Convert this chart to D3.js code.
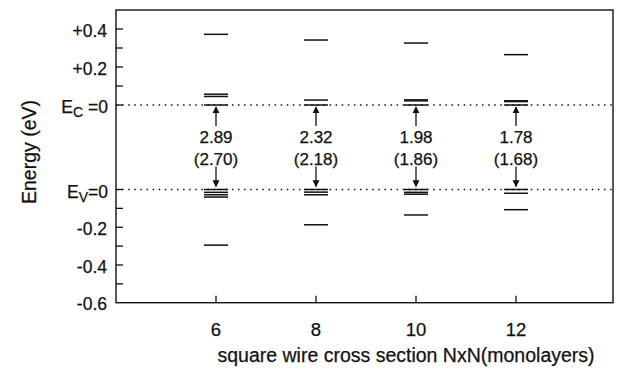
<!DOCTYPE html>
<html><head><meta charset="utf-8">
<script src="https://cdn.jsdelivr.net/npm/d3@7/dist/d3.min.js"></script>
<style>body{margin:0;background:#fff}svg{display:block}text{font-family:"Liberation Sans",Arial,Helvetica,sans-serif;fill:#111;stroke:#111;stroke-width:0.25}</style>
</head><body><svg id="c" width="621" height="379"></svg>
<script>
// ---- data ----
const sizes = [6, 8, 10, 12];
const condLevels = [
  [0, 0.045, 0.057, 0.372],
  [0, 0.026, 0.342],
  [0, 0.022, 0.027, 0.326],
  [0, 0.018, 0.022, 0.265]
];
const valLevels = [
  [0, -0.015, -0.028, -0.04, -0.295],
  [0, -0.014, -0.028, -0.187],
  [0, -0.015, -0.025, -0.135],
  [0, -0.02, -0.107]
];
const gapCalc = ["2.89", "2.32", "1.98", "1.78"];
const gapExp = ["(2.70)", "(2.18)", "(1.86)", "(1.68)"];
const condMajor = [0.4, 0.2];
const condMajorLabels = ["+0.4", "+0.2"];
const condMinor = [0.1, 0.3, 0.5];
const valMajor = [-0.2, -0.4, -0.6];
const valMajorLabels = ["-0.2", "-0.4", "-0.6"];
const valMinor = [-0.1, -0.3, -0.5];
const xLabel = "square wire cross section NxN(monolayers)";
const yLabel = "Energy (eV)";

// ---- scales ----
const svg = d3.select("#c");
const x = d3.scaleLinear().domain([4, 13.94]).range([116, 613]);
const yC = d3.scaleLinear().domain([0, 0.4]).range([105, 29]);
const yV = d3.scaleLinear().domain([-0.6, 0]).range([302.7, 189.5]);
const yTop = yC(0.5), yBot = yV(-0.6), xL = x.range()[0], xR = x.range()[1];
const halfW = 0.24;

// frame
svg.append("rect").attr("x", xL).attr("y", yTop).attr("width", xR - xL).attr("height", yBot - yTop)
  .attr("fill", "none").attr("stroke", "#111").attr("stroke-width", 1.4);

// dotted reference lines
[yC(0), yV(0)].forEach(yy => svg.append("line").attr("x1", xL).attr("x2", xR).attr("y1", yy).attr("y2", yy)
  .attr("stroke", "#111").attr("stroke-width", 1.5).attr("stroke-dasharray", "1.5,4.6"));

// y ticks
const tickLen = 7;
const ticks = [];
condMajor.forEach((v, i) => ticks.push({y: yC(v), label: condMajorLabels[i]}));
condMinor.forEach(v => ticks.push({y: yC(v)}));
ticks.push({y: yC(0)});
ticks.push({y: yV(0)});
valMajor.forEach((v, i) => ticks.push({y: yV(v), label: valMajorLabels[i]}));
valMinor.forEach(v => ticks.push({y: yV(v)}));
svg.selectAll(".yt").data(ticks.filter(t => t.y > yTop + 1 && t.y < yBot - 1)).join("line")
  .attr("x1", xL).attr("x2", xL + tickLen).attr("y1", d => d.y).attr("y2", d => d.y)
  .attr("stroke", "#111").attr("stroke-width", 1.3);
ticks.filter(t => t.label).forEach(t => {
  svg.append("text").attr("x", 107).attr("y", t.y + 3).attr("text-anchor", "end")
    .attr("dominant-baseline", "middle").attr("font-size", 17.5).text(t.label);
});
// E_C = 0 and E_V = 0 labels
function eLabel(yy, sub, rest) {
  const t = svg.append("text").attr("x", 108).attr("y", yy + 8).attr("text-anchor", "end").attr("font-size", 17.5);
  t.append("tspan").text("E");
  t.append("tspan").attr("font-size", 14).attr("dy", 4).text(sub);
  t.append("tspan").attr("dy", -4).text(rest);
}
eLabel(yC(0), "C", " =0");
eLabel(yV(0), "V", "=0");

// x ticks
svg.selectAll(".xt").data(sizes).join("line")
  .attr("x1", d => x(d)).attr("x2", d => x(d)).attr("y1", yBot).attr("y2", yBot - 7)
  .attr("stroke", "#111").attr("stroke-width", 1.3);
svg.selectAll(".xl").data(sizes).join("text")
  .attr("x", d => x(d)).attr("y", 336).attr("text-anchor", "middle").attr("font-size", 18.5).text(d => d);

// levels
sizes.forEach((n, i) => {
  const g = svg.append("g");
  g.selectAll(".c").data(condLevels[i]).join("line")
    .attr("x1", x(n - halfW)).attr("x2", x(n + halfW)).attr("y1", d => yC(d)).attr("y2", d => yC(d))
    .attr("stroke", "#111").attr("stroke-width", 1.5);
  g.selectAll(".v").data(valLevels[i]).join("line")
    .attr("x1", x(n - halfW)).attr("x2", x(n + halfW)).attr("y1", d => yV(d)).attr("y2", d => yV(d))
    .attr("stroke", "#111").attr("stroke-width", 1.5);
});

// arrows
const defs = svg.append("defs");
defs.append("marker").attr("id", "ah").attr("viewBox", "0 0 10 10").attr("refX", 9).attr("refY", 5)
  .attr("markerWidth", 7).attr("markerHeight", 9).attr("markerUnits", "userSpaceOnUse").attr("orient", "auto")
  .append("path").attr("d", "M0,0 L10,5 L0,10 Z").attr("fill", "#111");
sizes.forEach((n, i) => {
  const cx = x(n);
  svg.append("line").attr("x1", cx).attr("x2", cx).attr("y1", yC(0) + 21).attr("y2", yC(0) + 2)
    .attr("stroke", "#111").attr("stroke-width", 1.3).attr("marker-end", "url(#ah)");
  svg.append("line").attr("x1", cx).attr("x2", cx).attr("y1", yV(0) - 23).attr("y2", yV(0) - 3)
    .attr("stroke", "#111").attr("stroke-width", 1.3).attr("marker-end", "url(#ah)");
  svg.append("text").attr("x", cx).attr("y", yC(0) + 38).attr("text-anchor", "middle").attr("font-size", 17).text(gapCalc[i]);
  svg.append("text").attr("x", cx).attr("y", yC(0) + 60).attr("text-anchor", "middle").attr("font-size", 17).text(gapExp[i]);
});

// axis titles
svg.append("text").attr("x", 406).attr("y", 362).attr("text-anchor", "middle").attr("font-size", 19.5).text(xLabel);
svg.append("text").attr("transform", "translate(36,152) rotate(-90)").attr("text-anchor", "middle")
  .attr("font-size", 19.5).text(yLabel);
</script></body></html>
